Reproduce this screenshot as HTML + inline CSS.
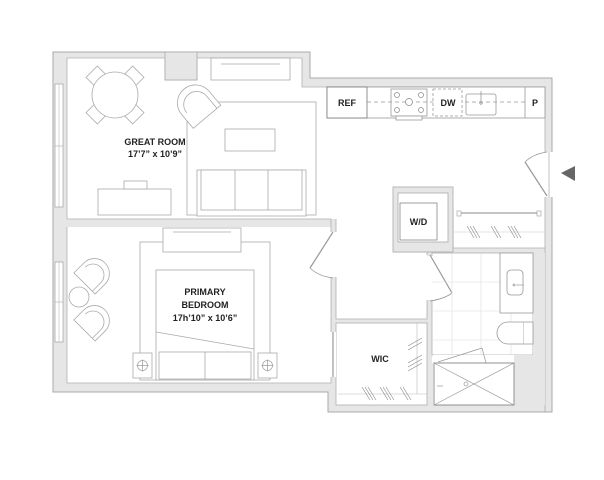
<!DOCTYPE html>
<html><head><meta charset="utf-8"><style>
html,body{margin:0;padding:0;background:#fff;}
svg{display:block;}
text{font-family:"Liberation Sans",sans-serif;fill:#222;font-weight:bold;}
</style></head><body>
<svg width="604" height="480" viewBox="0 0 604 480" xmlns="http://www.w3.org/2000/svg">
<polygon points="53,52 310,52 310,78 552,78 552,412 328,412 328,392 53,392" fill="#e6e6e6" stroke="#aaa" stroke-width="1"/>
<g fill="#fff" stroke="none">
<rect x="67" y="58" width="235" height="161"/>
<rect x="302" y="87" width="243" height="132"/>
<rect x="336" y="210" width="91" height="109"/>
<rect x="453" y="210" width="92" height="38"/>
<rect x="67" y="227" width="264" height="156"/>
<rect x="336" y="323" width="91" height="82"/>
<rect x="432" y="253" width="101" height="110"/>
<rect x="433" y="363" width="81" height="42"/>
</g>
<g fill="none" stroke="#b0b0b0" stroke-width="0.8">
<polyline points="67,219 67,58 165,58 165,80 197,80 197,58 302,58 302,87 545,87 545,152"/>
<line x1="545" y1="197" x2="545" y2="412"/>
<polyline points="67,219 331,219 331,232"/>
<polyline points="67,227 67,383 331,383 331,277"/>
<rect x="336" y="323" width="91" height="82"/>
<polyline points="336,219 336,232"/>
<polyline points="336,277 336,319 427,319 427,300"/>
<polyline points="427,255 427,252 393,252"/>
<rect x="432" y="253" width="101" height="102"/>
<polyline points="453,210 453,248 545,248"/>
</g>
<rect x="165" y="52" width="32" height="28" fill="#e6e6e6" stroke="#aaa" stroke-width="0.8"/>
<rect x="393" y="187" width="60" height="65" fill="#e6e6e6" stroke="#aaa" stroke-width="0.8"/>
<rect x="398" y="193" width="50" height="49" fill="#fff" stroke="#aaa" stroke-width="0.8"/>
<rect x="400" y="203" width="37" height="37" fill="#fff" stroke="#888" stroke-width="0.8"/>
<text x="418.5" y="225" font-size="9" text-anchor="middle">W/D</text>
<g fill="#fff" stroke="#aaa" stroke-width="0.8">
<rect x="55" y="84" width="8" height="123"/>
<rect x="55" y="262" width="8" height="80"/>
</g>
<line x1="59" y1="84" x2="59" y2="207" stroke="#bbb" stroke-width="0.6"/>
<line x1="55" y1="146" x2="63" y2="146" stroke="#aaa" stroke-width="0.6"/>
<line x1="59" y1="262" x2="59" y2="342" stroke="#bbb" stroke-width="0.6"/>
<line x1="55" y1="302" x2="63" y2="302" stroke="#aaa" stroke-width="0.6"/>
<g fill="#fff">
<rect x="330" y="232" width="7" height="45"/>
<rect x="426" y="256" width="7" height="44"/>
<rect x="329" y="332" width="7" height="45"/>
<rect x="544" y="152" width="9" height="45"/>
</g>
<g fill="none" stroke="#999" stroke-width="1.2">
<line x1="333" y1="232" x2="310" y2="268"/>
<path d="M310,268 Q318,276 333,278" stroke-width="0.8"/>
<line x1="430" y1="255" x2="452" y2="293"/>
<path d="M452,293 Q444,299 430,301" stroke-width="0.8"/>
<line x1="547" y1="196" x2="525" y2="162"/>
<path d="M525,162 Q533,154 547,152" stroke-width="0.8"/>
<line x1="333" y1="332" x2="333" y2="377"/>
<line x1="549" y1="152" x2="549" y2="197" stroke-width="0.6"/>
</g>
<polygon points="561,173 575,166 575,181" fill="#666"/>
<g fill="#fff" stroke="#999" stroke-width="0.8">
<rect x="327" y="87" width="218" height="31"/>
<rect x="327" y="87" width="40" height="31" stroke="#777"/>
<line x1="525" y1="87" x2="525" y2="118"/>
<rect x="391" y="89" width="36" height="27"/>
<rect x="396" y="116" width="26" height="4"/>
<rect x="466" y="94" width="30" height="21" rx="2"/>
</g>
<line x1="367" y1="102" x2="525" y2="102" stroke="#999" stroke-width="0.8" stroke-dasharray="4,3"/>
<rect x="433" y="89" width="29" height="27" fill="#fff" stroke="#999" stroke-width="0.8" stroke-dasharray="3,2"/>
<g fill="#fff" stroke="#888" stroke-width="0.7">
<circle cx="397" cy="95" r="2.5"/><circle cx="421" cy="95" r="2.5"/>
<circle cx="397" cy="110" r="2.5"/><circle cx="421" cy="110" r="2.5"/>
<circle cx="409" cy="102" r="3.5"/>
<circle cx="481" cy="103" r="1.2"/>
</g>
<line x1="481" y1="91" x2="481" y2="103" stroke="#888" stroke-width="0.7"/>
<text x="347" y="106" font-size="9" text-anchor="middle">REF</text>
<text x="448" y="106" font-size="9" text-anchor="middle">DW</text>
<text x="535" y="106" font-size="9" text-anchor="middle">P</text>
<line x1="460" y1="213" x2="540" y2="213" stroke="#888" stroke-width="1"/>
<rect x="457" y="211" width="4" height="5" fill="#fff" stroke="#999" stroke-width="0.6"/>
<rect x="537" y="211" width="4" height="5" fill="#fff" stroke="#999" stroke-width="0.6"/>
<line x1="454" y1="232" x2="545" y2="232" stroke="#ccc" stroke-width="0.6"/>
<g stroke="#888" stroke-width="0.6">
<line x1="467" y1="226" x2="474" y2="238"/><line x1="470" y1="226" x2="477" y2="238"/><line x1="473" y1="226" x2="480" y2="238"/>
<line x1="491" y1="226" x2="498" y2="238"/><line x1="494" y1="226" x2="501" y2="238"/>
<line x1="508" y1="226" x2="515" y2="238"/><line x1="511" y1="226" x2="518" y2="238"/><line x1="514" y1="226" x2="521" y2="238"/>
</g>
<g fill="#fff" stroke="#aaa" stroke-width="0.8">
<rect x="211" y="58" width="79" height="22"/>
<line x1="221" y1="64" x2="280" y2="64"/>
<rect x="187" y="102" width="129" height="113"/>
<rect x="225" y="129" width="50" height="22"/>
<rect x="197" y="170" width="109" height="46"/>
<rect x="201" y="170" width="101" height="40"/>
<line x1="235" y1="170" x2="235" y2="210"/><line x1="268" y1="170" x2="268" y2="210"/>
<rect x="98" y="189" width="73" height="26"/>
<rect x="124" y="181" width="23" height="8"/>
<g transform="translate(115,95)">
<g transform="rotate(45)"><rect x="-8" y="-33" width="16" height="12"/></g>
<g transform="rotate(135)"><rect x="-8" y="-33" width="16" height="12"/></g>
<g transform="rotate(225)"><rect x="-8" y="-33" width="16" height="12"/></g>
<g transform="rotate(315)"><rect x="-8" y="-33" width="16" height="12"/></g>
<circle cx="0" cy="0" r="23"/>
</g>
<g transform="translate(198,106) rotate(-40)">
<path d="M-18,-4 A18,18 0 0 1 18,-4 L18,14 L-18,14 Z"/>
<path d="M-13,-2 A13,13 0 0 1 13,-2 L13,14"/>
</g>
</g>
<text x="155" y="145" font-size="9" text-anchor="middle">GREAT ROOM</text>
<text x="155" y="157" font-size="9" text-anchor="middle">17’7” x 10’9”</text>
<g fill="#fff" stroke="#aaa" stroke-width="0.8">
<rect x="140" y="242" width="130" height="138"/>
<rect x="163" y="228" width="78" height="24"/>
<line x1="173" y1="232" x2="231" y2="232"/>
<rect x="156" y="270" width="98" height="110"/>
<line x1="156" y1="332" x2="254" y2="349"/>
<rect x="159" y="352" width="92" height="27"/>
<line x1="205" y1="352" x2="205" y2="379"/>
<rect x="133" y="353" width="19" height="25"/><circle cx="142.5" cy="365.5" r="5"/>
<rect x="258" y="353" width="19" height="25"/><circle cx="267.5" cy="365.5" r="5"/>
<circle cx="79" cy="297" r="10"/>
<g transform="translate(93,275) rotate(45)">
<path d="M-15,-2 A15,15 0 0 1 15,-2 L15,12 L-15,12 Z"/>
<path d="M-11,0 A11,11 0 0 1 11,0 L11,12"/>
</g>
<g transform="translate(93,322) rotate(45)">
<path d="M-15,-2 A15,15 0 0 1 15,-2 L15,12 L-15,12 Z"/>
<path d="M-11,0 A11,11 0 0 1 11,0 L11,12"/>
</g>
</g>
<g stroke="#888" stroke-width="0.6">
<line x1="136.5" y1="365.5" x2="148.5" y2="365.5"/><line x1="142.5" y1="359.5" x2="142.5" y2="371.5"/>
<line x1="261.5" y1="365.5" x2="273.5" y2="365.5"/><line x1="267.5" y1="359.5" x2="267.5" y2="371.5"/>
</g>
<text x="205" y="295" font-size="9" text-anchor="middle">PRIMARY</text>
<text x="205" y="308" font-size="9" text-anchor="middle">BEDROOM</text>
<text x="205" y="321" font-size="9" text-anchor="middle">17h’10” x 10’6”</text>
<g stroke="#bbb" stroke-width="0.6" fill="none">
<line x1="338" y1="394" x2="427" y2="394"/>
<line x1="417" y1="323" x2="417" y2="394"/>
</g>
<g stroke="#888" stroke-width="0.6">
<line x1="408" y1="346" x2="422" y2="338"/><line x1="408" y1="350" x2="422" y2="342"/>
<line x1="408" y1="363" x2="422" y2="355"/><line x1="408" y1="367" x2="422" y2="359"/><line x1="408" y1="371" x2="422" y2="363"/>
<line x1="362" y1="387" x2="370" y2="400"/><line x1="365" y1="387" x2="373" y2="400"/><line x1="368" y1="387" x2="376" y2="400"/>
<line x1="380" y1="387" x2="388" y2="400"/><line x1="383" y1="387" x2="391" y2="400"/><line x1="386" y1="387" x2="394" y2="400"/>
<line x1="400" y1="387" x2="408" y2="400"/><line x1="403" y1="387" x2="411" y2="400"/>
</g>
<text x="380" y="362" font-size="9" text-anchor="middle">WIC</text>
<g stroke="#ddd" stroke-width="0.6">
<line x1="452" y1="253" x2="452" y2="363"/><line x1="481" y1="253" x2="481" y2="363"/><line x1="511" y1="253" x2="511" y2="363"/>
<line x1="432" y1="282" x2="533" y2="282"/><line x1="432" y1="311" x2="533" y2="311"/><line x1="432" y1="340" x2="533" y2="340"/>
</g>
<rect x="533" y="253" width="12" height="102" fill="#e6e6e6"/>
<rect x="514" y="355" width="31" height="50" fill="#e6e6e6"/>
<rect x="433" y="355" width="81" height="8" fill="#fff"/>
<g fill="#fff" stroke="#999" stroke-width="0.8">
<rect x="500" y="253" width="33" height="60"/>
<rect x="507" y="270" width="16" height="25" rx="4"/>
<path d="M523,322 L533,322 L533,344 L523,344 Z"/>
<path d="M523,322 L508,322 A11,11 0 0 0 508,344 L523,344"/>
<rect x="434" y="363" width="80" height="42" stroke="#777"/>
</g>
<g stroke="#999" stroke-width="0.7" fill="none">
<line x1="434" y1="363" x2="514" y2="405"/><line x1="514" y1="363" x2="434" y2="405"/>
<circle cx="466" cy="384" r="2" fill="#fff"/>
<line x1="438" y1="362" x2="482" y2="348"/>
<line x1="482" y1="348" x2="486" y2="363"/>
<line x1="516" y1="285" x2="524" y2="285"/>
<circle cx="514" cy="285" r="1"/>
<line x1="437" y1="386" x2="443" y2="386"/>
</g>
</svg>
</body></html>
